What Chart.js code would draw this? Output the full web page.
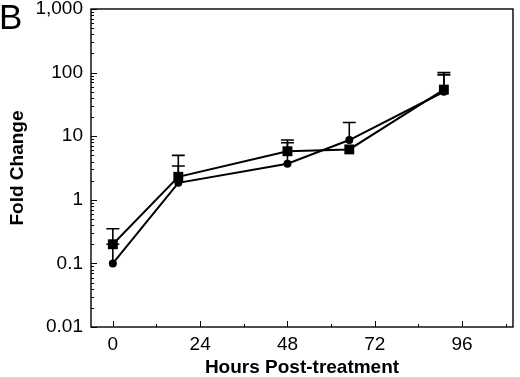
<!DOCTYPE html>
<html>
<head>
<meta charset="utf-8">
<script src="https://cdn.jsdelivr.net/npm/chart.js@4.4.1/dist/chart.umd.min.js"></script>
<style>
  html, body { margin: 0; padding: 0; background: #fff; }
  #wrap { width: 520px; height: 377px; position: relative; }
</style>
</head>
<body>
<div id="wrap"><canvas id="foldChart"></canvas></div>
<script>
// Data
const hours = [0, 18, 48, 65, 91];
const squareValues = [0.2, 2.3, 5.8, 6.2, 54];
const circleValues = [0.1, 1.85, 3.7, 8.7, 50];
// upper ends of the error bars (null = no bar)
const squareUpper = [0.35, 5.0, 8.7, null, 100];
const circleUpper = [0.2, 3.4, 7.9, 16.4, 92];

const xTicks = [0, 24, 48, 72, 96];
const xMinorTicks = [12, 36, 60, 84, 108];
const yTicks = [0.01, 0.1, 1, 10, 100, 1000];

const FONT = "'Liberation Sans', Arial, Helvetica, sans-serif";

function toPoints(values) {
    return hours.map((h, i) => ({ x: h, y: values[i] }));
}

// Error bars, frame, inward ticks and panel letter
const decorPlugin = {
    id: 'decor',
    afterDatasetsDraw(chart) {
        const ctx = chart.ctx;
        const xs = chart.scales.x;
        const ys = chart.scales.y;
        ctx.save();
        ctx.strokeStyle = '#000';
        ctx.lineWidth = 1.6;

        const drawBars = (uppers, values) => {
            uppers.forEach((u, i) => {
                if (u == null) return;
                const px = xs.getPixelForValue(hours[i]);
                const py = ys.getPixelForValue(values[i]);
                const pu = ys.getPixelForValue(u);
                ctx.beginPath();
                ctx.moveTo(px, py);
                ctx.lineTo(px, pu);
                ctx.moveTo(px - 6.5, pu);
                ctx.lineTo(px + 6.5, pu);
                ctx.stroke();
            });
        };
        drawBars(squareUpper, squareValues);
        drawBars(circleUpper, circleValues);
        ctx.restore();
    },
    afterDraw(chart) {
        const ctx = chart.ctx;
        const area = chart.chartArea;
        const xs = chart.scales.x;
        const ys = chart.scales.y;
        ctx.save();
        ctx.strokeStyle = '#000';
        ctx.lineWidth = 1.4;
        ctx.strokeRect(area.left, area.top, area.right - area.left, area.bottom - area.top);

        ctx.lineWidth = 1;
        ctx.beginPath();
        // x ticks (inside)
        xTicks.forEach(v => {
            const px = Math.round(xs.getPixelForValue(v)) + 0.5;
            ctx.moveTo(px, area.bottom);
            ctx.lineTo(px, area.bottom - 6);
        });
        xMinorTicks.forEach(v => {
            const px = Math.round(xs.getPixelForValue(v)) + 0.5;
            ctx.moveTo(px, area.bottom);
            ctx.lineTo(px, area.bottom - 3);
        });
        // y ticks (inside), log minors
        for (let k = -2; k <= 3; k++) {
            for (let m = 1; m <= 9; m++) {
                const v = m * Math.pow(10, k);
                if (v > 1000) break;
                const py = Math.round(ys.getPixelForValue(v)) + 0.5;
                const len = m === 1 ? 6 : 3;
                ctx.moveTo(area.left, py);
                ctx.lineTo(area.left + len, py);
            }
        }
        ctx.stroke();

        // panel letter
        ctx.fillStyle = '#000';
        ctx.font = '35px ' + FONT;
        ctx.textBaseline = 'alphabetic';
        ctx.textAlign = 'left';
        ctx.fillText('B', -1, 29);
        ctx.restore();
    }
};

function createChart() {
    const chartContext = document.getElementById('foldChart').getContext('2d');
    new Chart(chartContext, {
        type: 'line',
        data: {
            datasets: [
                {
                    label: 'Squares',
                    data: toPoints(squareValues),
                    borderColor: '#000',
                    backgroundColor: '#000',
                    borderWidth: 2,
                    pointStyle: 'rect',
                    pointRadius: 7,
                    pointBorderWidth: 0,
                    tension: 0
                },
                {
                    label: 'Circles',
                    data: toPoints(circleValues),
                    borderColor: '#000',
                    backgroundColor: '#000',
                    borderWidth: 2,
                    pointStyle: 'circle',
                    pointRadius: 4,
                    pointBorderWidth: 0,
                    tension: 0
                }
            ]
        },
        options: {
            responsive: true,
            maintainAspectRatio: false,
            animation: false,
            layout: { padding: { left: 0, right: 2, top: 9, bottom: 0 } },
            plugins: {
                legend: { display: false },
                tooltip: { enabled: false }
            },
            scales: {
                x: {
                    type: 'linear',
                    min: -6,
                    max: 110,
                    afterBuildTicks: s => { s.ticks = xTicks.map(v => ({ value: v })); },
                    afterFit: s => { s.height = 50; s.paddingLeft = 0; s.paddingRight = 0; },
                    grid: { display: false, drawTicks: false },
                    border: { display: false },
                    ticks: {
                        color: '#000',
                        padding: 6,
                        font: { family: FONT, size: 19 }
                    },
                    title: {
                        display: true,
                        text: 'Hours Post-treatment',
                        color: '#000',
                        padding: { top: 0, bottom: 0 },
                        font: { family: FONT, size: 19, weight: 'bold', lineHeight: 1 }
                    }
                },
                y: {
                    type: 'logarithmic',
                    min: 0.01,
                    max: 1000,
                    afterBuildTicks: s => { s.ticks = yTicks.map(v => ({ value: v })); },
                    afterFit: s => { s.width = 91; s.paddingTop = 0; s.paddingBottom = 0; },
                    grid: { display: false, drawTicks: false },
                    border: { display: false },
                    ticks: {
                        color: '#000',
                        padding: 8,
                        font: { family: FONT, size: 19 },
                        callback: v => v >= 1000 ? v.toLocaleString('en-US') : String(v)
                    },
                    title: {
                        display: true,
                        text: 'Fold Change',
                        color: '#000',
                        padding: { top: 8, bottom: 0 },
                        font: { family: FONT, size: 19, weight: 'bold', lineHeight: 1 }
                    }
                }
            }
        },
        plugins: [decorPlugin]
    });
}

createChart();
</script>
</body>
</html>
